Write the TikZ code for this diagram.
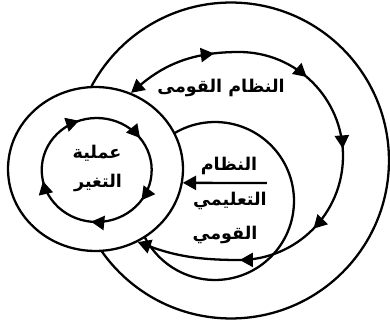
\documentclass[tikz,border=0pt]{standalone}
\usepackage{fontspec}
\newfontfamily\arabicfont[Script=Arabic]{DejaVu Sans}
\TeXXeTstate=1
\usetikzlibrary{shapes.geometric,arrows.meta,decorations.markings,positioning}

\begin{document}
\begin{tikzpicture}[
    x=0.02cm, y=0.02cm,
    >={Triangle[length=7.5pt,width=8pt]},
    ring/.style={circle, draw, line width=1.3pt, inner sep=0pt},
    oval/.style={ellipse, draw, line width=1.3pt, inner sep=0pt},
    flow/.style={line width=1.3pt},
    arlabel/.style={font=\arabicfont\bfseries, inner sep=0pt},
    arrow/.style={->, line width=1.3pt}
]
\useasboundingbox (0,0) rectangle (390,325);

% Outer circle and educational system
\node[ring, minimum size=6.32cm] (nat) at (231,164.5) {};
\node[ring, minimum size=3.16cm] (edu) at (215,124) {};

% Change process circle
\node[oval, fill=white, minimum width=3.5cm, minimum height=3.28cm] (chg) at (95.5,156) {};

% National system loop
\coordinate (ltop) at (239,273);
\coordinate (lright) at (343,169);
\coordinate (lbot) at (239,65);
\draw[flow, <->, postaction={decorate}, decoration={markings,
      mark=at position 0.17 with {\arrow{>}},
      mark=at position 0.35 with {\arrow{>}},
      mark=at position 0.50 with {\arrow{>}},
      mark=at position 0.66 with {\arrow{>}},
      mark=at position 0.81 with {\arrow{>}}}]
    (chg.65) to[out=40,in=180] (ltop) to[out=0,in=90] (lright)
    to[out=-90,in=0] (lbot) to[out=180,in=-20] (chg.-60);

% Inner cycle
\node[ellipse, inner sep=0pt, minimum width=2.2cm, minimum height=2.08cm] (cyc) at (96.7,155) {};
\draw[flow, postaction={decorate}, decoration={markings,
      mark=at position 0.06 with {\arrow{>}},
      mark=at position 0.26 with {\arrow{>}},
      mark=at position 0.46 with {\arrow{>}},
      mark=at position 0.63 with {\arrow{>}},
      mark=at position 0.83 with {\arrow{>}}}]
    (cyc.center) ++(130:1.1cm and 1.04cm)
    arc[start angle=130, delta angle=-360, x radius=1.1cm, y radius=1.04cm];

% Labels
\node[arlabel] (tnat) at (221,237) {\beginR النظام القومى\endR};
\node[arlabel] (tchg1) at (97,172) {\beginR عملية\endR};
\node[arlabel] (tchg2) at (98,142) {\beginR التغير\endR};
\node[arlabel] (tedu1) at (229,159) {\beginR النظام\endR};
\node[arlabel] (tedu2) at (230,124) {\beginR التعليمي\endR};
\node[arlabel] (tedu3) at (225,90) {\beginR القومي\endR};

% Arrow into change process
\coordinate (ul) at (267,142);
\draw[arrow] (ul) -- (chg.-9);

\end{tikzpicture}
\end{document}
